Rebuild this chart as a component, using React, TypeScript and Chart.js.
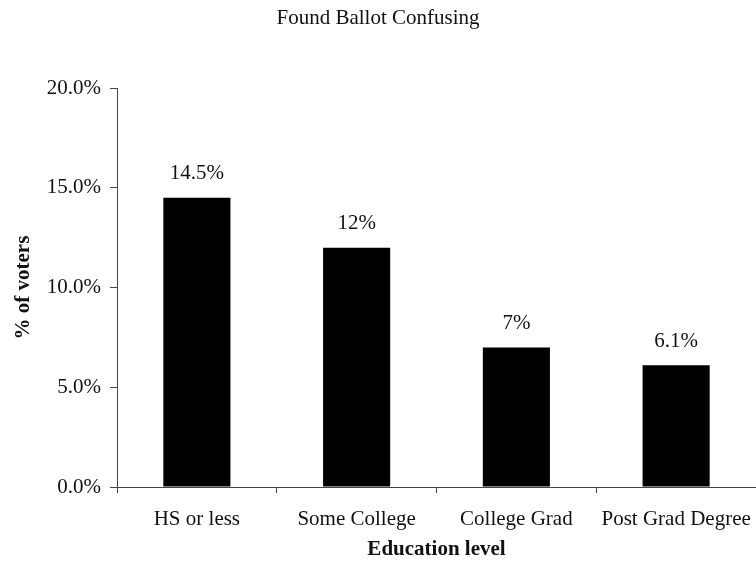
import React, { useEffect, useRef } from "react";
import { Chart, registerables } from "chart.js";

Chart.register(...registerables);

const TITLE = "Found Ballot Confusing";
const categories = ["HS or less", "Some College", "College Grad", "Post Grad Degree"];
const values = [14.5, 12, 7, 6.1];
const valueLabels = ["14.5%", "12%", "7%", "6.1%"];
const yTickValues = [0, 5, 10, 15, 20];
const yTickLabels = ["0.0%", "5.0%", "10.0%", "15.0%", "20.0%"];
const xTitle = "Education level";
const yTitle = "% of voters";

const FONT = "'Liberation Serif', 'Times New Roman', serif";
const FS = 21;

const valueLabelPlugin = {
  id: "valueLabels",
  afterDatasetsDraw(chart: any) {
    const ctx = chart.ctx;
    const meta = chart.getDatasetMeta(0);
    ctx.save();
    ctx.font = `${FS}px ${FONT}`;
    ctx.fillStyle = "#111";
    ctx.textAlign = "center";
    ctx.textBaseline = "middle";
    meta.data.forEach((bar: any, i: number) => {
      ctx.fillText(valueLabels[i], bar.x, bar.y - 24);
    });
    ctx.restore();
  },
};

export default function App() {
  const ref = useRef<HTMLCanvasElement | null>(null);
  useEffect(() => {
    document.body.style.margin = "0";
    if (!ref.current) return;
    const chart = new Chart(ref.current, {
      type: "bar",
      data: {
        labels: categories,
        datasets: [
          {
            data: values,
            backgroundColor: "#000",
            borderWidth: 0,
            categoryPercentage: 1,
            barPercentage: 0.42,
          },
        ],
      },
      options: {
        responsive: false,
        animation: false,
        layout: { padding: { top: 0, right: 0, bottom: 0, left: 0 } },
        plugins: {
          legend: { display: false },
          tooltip: { enabled: false },
          title: {
            display: true,
            text: TITLE,
            color: "#111",
            font: { family: FONT, size: FS, weight: "normal" },
            padding: { top: 6, bottom: 57 },
          },
        },
        scales: {
          x: {
            offset: true,
            grid: {
              display: true,
              offset: true,
              drawOnChartArea: false,
              drawTicks: true,
              tickLength: 6,
              color: "#444",
            },
            border: { display: true, color: "#444", width: 1 },
            ticks: {
              color: "#111",
              font: { family: FONT, size: FS },
              padding: 14,
              maxRotation: 0,
              autoSkip: false,
            },
            title: {
              display: true,
              text: xTitle,
              color: "#111",
              font: { family: FONT, size: FS, weight: "bold" },
              padding: { top: 0, bottom: 5 },
            },
            afterFit(scale: any) {
              scale.height = 80;
              scale.paddingLeft = 0;
              scale.paddingRight = 0;
            },
          },
          y: {
            min: 0,
            max: 20,
            afterBuildTicks(scale: any) {
              scale.ticks = yTickValues.map((v) => ({ value: v }));
            },
            grid: {
              display: true,
              drawOnChartArea: false,
              drawTicks: true,
              tickLength: 7,
              color: "#444",
            },
            border: { display: true, color: "#444", width: 1 },
            ticks: {
              color: "#111",
              font: { family: FONT, size: FS },
              padding: 9,
              callback: (v: any) => {
                const i = yTickValues.indexOf(Number(v));
                return i >= 0 ? yTickLabels[i] : "";
              },
            },
            title: {
              display: true,
              text: yTitle,
              color: "#111",
              font: { family: FONT, size: FS, weight: "bold" },
              padding: { top: 11, bottom: 0 },
            },
            afterFit(scale: any) {
              scale.width = 117;
            },
          },
        },
      },
      plugins: [valueLabelPlugin],
    });
    return () => chart.destroy();
  }, []);
  return (
    <div style={{ width: 756, height: 567, background: "#fff" }}>
      <canvas ref={ref} width={756} height={567} style={{ display: "block" }} />
    </div>
  );
}
